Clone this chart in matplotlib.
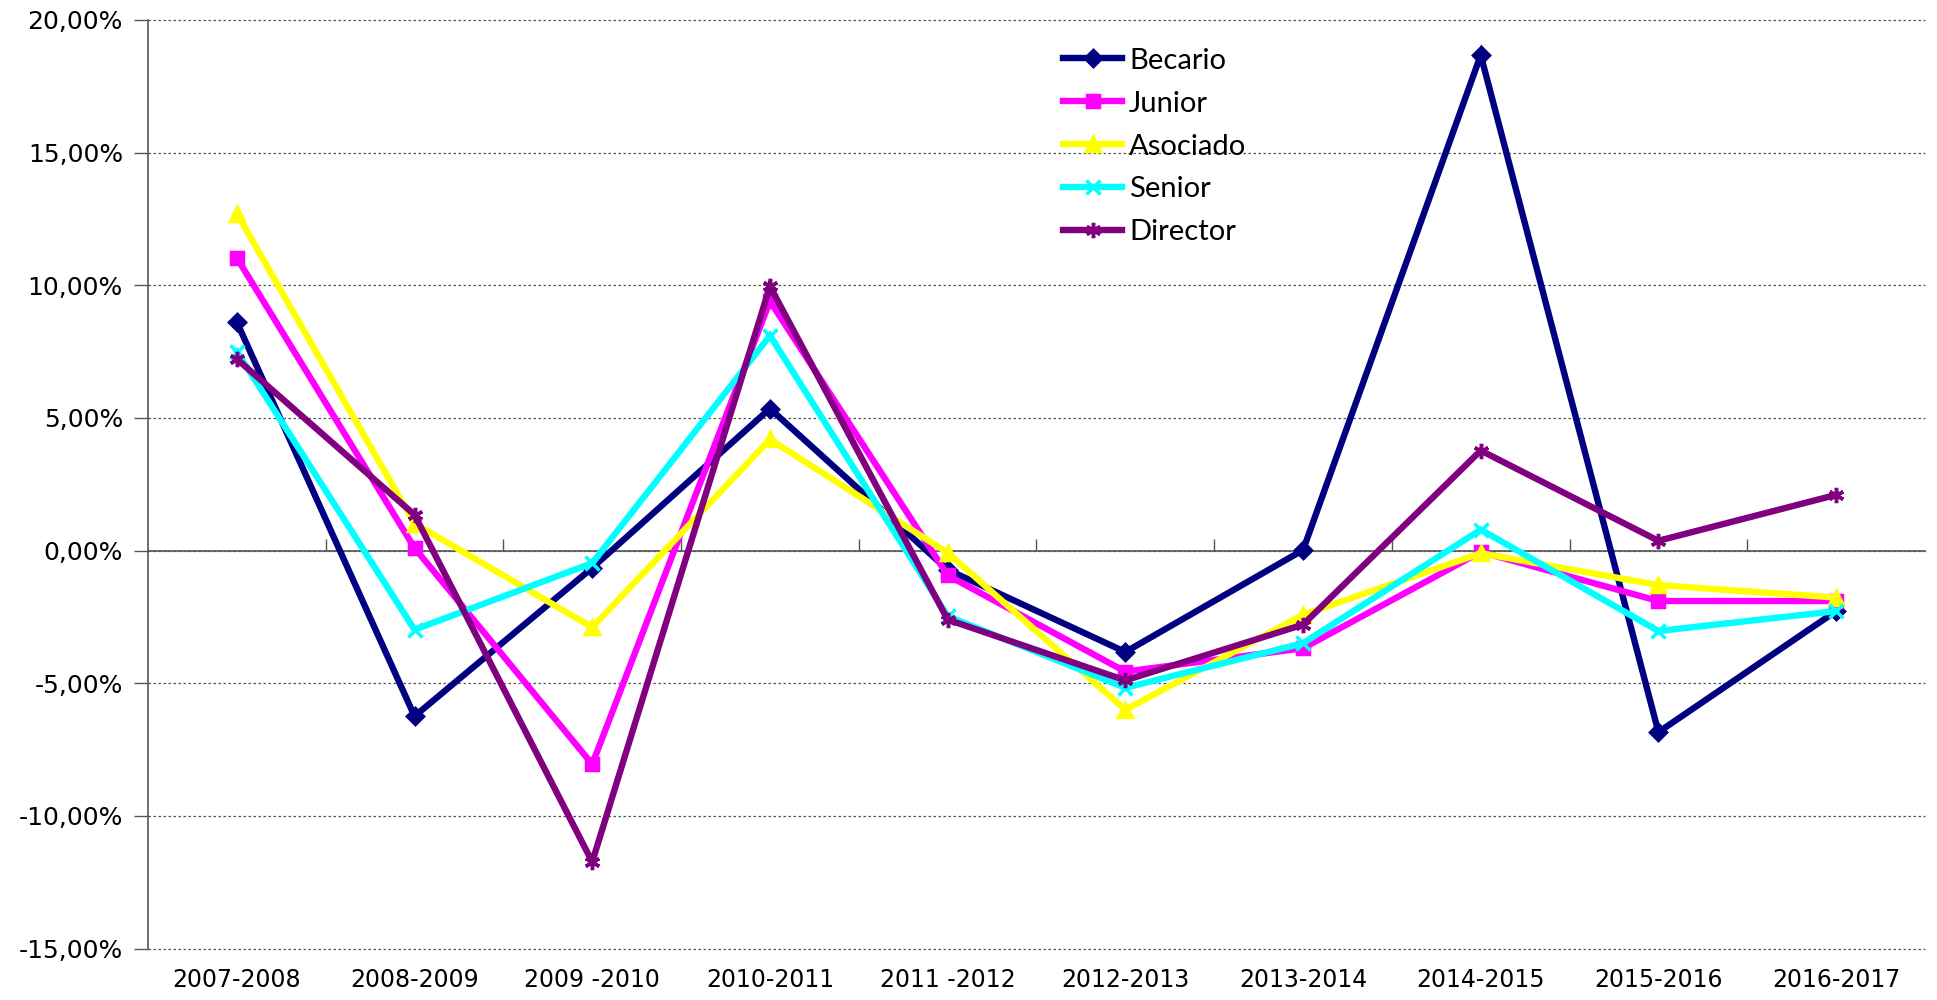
import numpy as np
import matplotlib.pyplot as plt
from matplotlib.ticker import FuncFormatter

periods = ['2007-2008', '2008-2009', '2009 -2010', '2010-2011', '2011 -2012',
           '2012-2013', '2013-2014', '2014-2015', '2015-2016', '2016-2017']

becario = [8.61, -6.24, -0.65, 5.35, -0.72, -3.82, 0.02, 18.67, -6.84, -2.28]
junior = [11.03, 0.10, -8.05, 9.40, -0.93, -4.56, -3.68, -0.05, -1.90, -1.90]
asociado = [12.70, 1.02, -2.89, 4.19, -0.08, -6.00, -2.42, -0.10, -1.30, -1.77]
senior = [7.50, -2.98, -0.47, 8.10, -2.47, -5.17, -3.49, 0.79, -3.03, -2.28]
director = [7.22, 1.35, -11.73, 9.96, -2.60, -4.89, -2.79, 3.77, 0.37, 2.10]

series_names = ['Becario', 'Junior', 'Asociado', 'Senior', 'Director']
series_vals = [becario, junior, asociado, senior, director]
colors = ['#000080', '#FF00FF', '#FFFF00', '#00FFFF', '#800080']
markers = ['D', 's', '^', 'x', (6, 2, 0)]
msizes = [8.5, 9, 10, 10, 11]

fig = plt.figure(figsize=(19.37, 10), dpi=100)
ax = fig.add_axes([0.0764, 0.0513, 0.9174, 0.9289])

x = np.arange(len(periods))
for name, vals, c, m, ms in zip(series_names, series_vals, colors, markers, msizes):
    ax.plot(x, vals, color=c, lw=4.6, marker=m, ms=ms, mew=2.5,
            mfc=c, mec=c, label=name, solid_joinstyle='miter')

ax.set_xlim(-0.5, len(periods) - 0.5)
ax.set_ylim(-15, 20)
ax.set_yticks(np.arange(-15, 21, 5))
ax.yaxis.set_major_formatter(FuncFormatter(lambda v, p: f'{v:.2f}%'.replace('.', ',')))
ax.yaxis.grid(True, ls=(0, (2, 2)), color='#555555', lw=0.9, clip_on=False)
ax.set_axisbelow(True)
for s in ['top', 'right', 'bottom']:
    ax.spines[s].set_visible(False)
ax.spines['left'].set_color('#555555')
ax.spines['left'].set_linewidth(1.2)
ax.tick_params(axis='y', length=10, width=1, color='#555555', labelsize=18, pad=8)
for t in ax.get_yticklabels():
    t.set_family('DejaVu Sans')

ax.set_xticks(x)
ax.set_xticklabels(periods, family=['Liberation Sans Narrow', 'DejaVu Sans'], fontsize=17)
ax.tick_params(axis='x', length=0, pad=14)

# horizontal axis crossing at zero, with tick marks between categories
sec = ax.secondary_xaxis(15 / 35)
sec.set_xticks(np.arange(0.5, len(periods) - 1, 1.0))
sec.tick_params(axis='x', direction='in', length=9, width=1, color='#555555', labelbottom=False, labeltop=False)
sec.spines['bottom'].set_color('#555555')
sec.spines['bottom'].set_linewidth(1.2)
sec.spines['top'].set_visible(False)

leg = ax.legend(loc='upper left', bbox_to_anchor=(0.543, 0.964), bbox_transform=fig.transFigure,
                frameon=False, prop={'family': 'Lato', 'size': 21}, handlelength=2.0,
                handletextpad=0.25, labelspacing=0.58, borderaxespad=0)

fig.savefig('out.png', dpi=100)
